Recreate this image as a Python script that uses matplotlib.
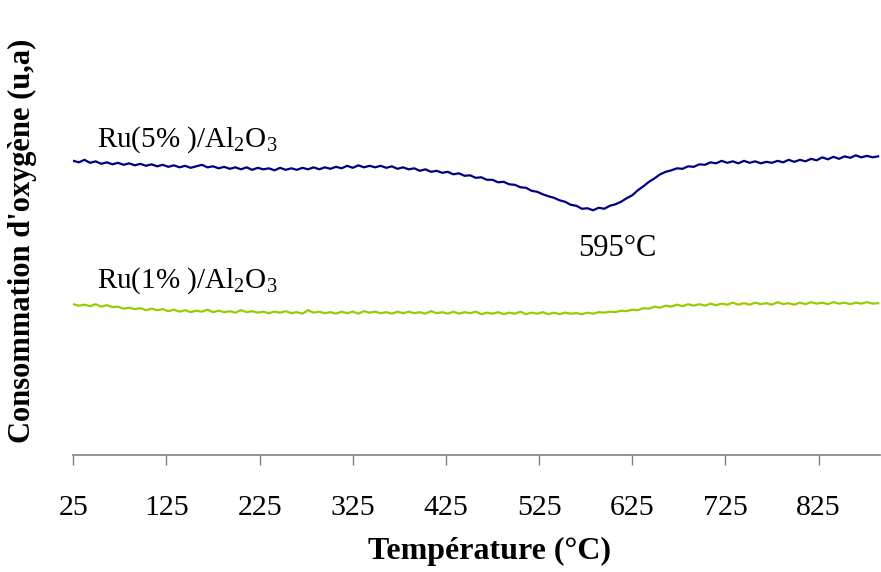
import numpy as np
import matplotlib
matplotlib.use("Agg")
import matplotlib.pyplot as plt

plt.rcParams['font.family'] = ['Liberation Serif', 'DejaVu Serif']
plt.rcParams['mathtext.fontset'] = 'custom'
plt.rcParams['mathtext.rm'] = 'Liberation Serif'
plt.rcParams['mathtext.it'] = 'Liberation Serif:italic'
plt.rcParams['mathtext.bf'] = 'Liberation Serif:bold'

# Temperature sampling grid (°C)
temperature = np.arange(25, 890, 6)

# Oxygen consumption signal (arbitrary units)
ru5 = [294, 292.5, 295, 292, 293.5, 291, 292.5, 290.5, 292, 290,
       291.5, 289.5, 291, 289, 290.5, 288.5, 290, 288, 289.5, 287.5,
       289, 287, 288.5, 290, 287.5, 288.5, 286.5, 288, 286, 287.5,
       285.5, 287.5, 285, 287, 285.5, 286.5, 284.5, 287, 285, 286.5,
       285, 287, 285.5, 287.5, 285.5, 287.5, 286, 288, 286.5, 289,
       287, 289.5, 287.5, 289, 287.5, 289, 287, 288.5, 286, 287.5,
       285.5, 286.5, 284, 285.5, 283, 284, 282, 283, 280.5, 281.5,
       279, 279.5, 277, 277.5, 275, 275, 272.5, 273, 270.5, 270,
       267.5, 267, 264, 263, 260.5, 258.5, 257, 254.5, 253, 250,
       249, 246, 246.5, 244.5, 247, 246, 249, 250.5, 253, 256.5,
       259.5, 264.5, 268.5, 273, 276.5, 280.5, 283, 284.5, 286.5, 286,
       288.5, 288, 290.5, 290, 292.5, 291.5, 294, 292, 293.5, 291.5,
       294, 292, 293.5, 291.5, 293, 292, 294, 292.5, 295, 293,
       295, 293.5, 296, 294.5, 297.5, 295.5, 298, 296, 298.5, 297,
       299.5, 297.5, 299, 297.5, 298.5]

ru1 = [150.5, 149, 150, 148.5, 150.5, 148, 149.5, 147.5, 148, 146,
       147, 145.5, 146.5, 144.5, 146, 144.5, 145.5, 143.5, 145, 143,
       144.5, 142.5, 144, 143, 145, 142.5, 144, 142.5, 143.5, 142,
       144.5, 142.5, 143.5, 142, 143, 141.5, 143, 142, 143.5, 141.5,
       142.5, 141, 144.5, 142, 143, 141.5, 142.5, 141, 143, 141.5,
       143, 141, 143.5, 142, 143, 141.5, 142.5, 141, 143, 141.5,
       143, 141.5, 142.5, 141, 143.5, 141.5, 142.5, 141, 143, 141,
       142.5, 141.5, 143, 140.5, 142, 141, 142.5, 140.5, 142, 141,
       143, 140.5, 142, 141, 142.5, 140.5, 142, 140.5, 142, 141,
       141.5, 140.5, 142, 141, 142.5, 142, 143, 142.5, 144, 143.5,
       145, 144.5, 146.5, 146, 148, 147, 149, 148, 150, 148.5,
       150.5, 149, 150.5, 149, 151, 149.5, 151, 150, 152, 150,
       151.5, 150, 152, 150.5, 151.5, 150, 152.5, 150.5, 151.5, 150,
       152, 150.5, 152.5, 151, 152, 150.5, 152.5, 151, 152, 150.5,
       152, 151, 152.5, 151, 151.5]

tick_values = [25, 125, 225, 325, 425, 525, 625, 725, 825]
label5 = r'Ru(5% )/Al$_2$O$_3$'
label1 = r'Ru(1% )/Al$_2$O$_3$'
peak_label = '595°C'

fig = plt.figure(figsize=(8.81, 5.72), dpi=100)
ax = fig.add_axes([73.3 / 881, 117.5 / 572, (880 - 73.3) / 881, 444.5 / 572])

ax.plot(temperature, ru5, color='#000080', lw=1.6)
ax.plot(temperature, ru1, color='#99CC00', lw=1.6)

ax.set_xlim(25, 891)
ax.set_ylim(0, 445)

for s in ['left', 'top', 'right']:
    ax.spines[s].set_visible(False)
ax.spines['bottom'].set_color('#808080')
ax.spines['bottom'].set_linewidth(1.2)

ax.set_xticks(tick_values)
ax.set_xticklabels([str(v) for v in tick_values])
ax.tick_params(axis='x', direction='out', length=7, width=1, color='#808080',
               labelsize=21.5, pad=22, labelcolor='black')
ax.set_yticks([])

ax.text(50, 315, label5, fontsize=21, ha='left', va='center')
ax.text(50, 174, label1, fontsize=21, ha='left', va='center')
ax.text(609, 206, peak_label, fontsize=22, ha='center', va='center')

ax.set_xlabel('Température (°C)', fontsize=23, fontweight='bold')
ax.xaxis.set_label_coords(0.5165, -0.185)
ax.set_ylabel("Consommation d'oxygène (u,a)", fontsize=22, fontweight='bold')
ax.yaxis.set_label_coords(-0.045, 0.48)

fig.savefig('out.png', dpi=100)
